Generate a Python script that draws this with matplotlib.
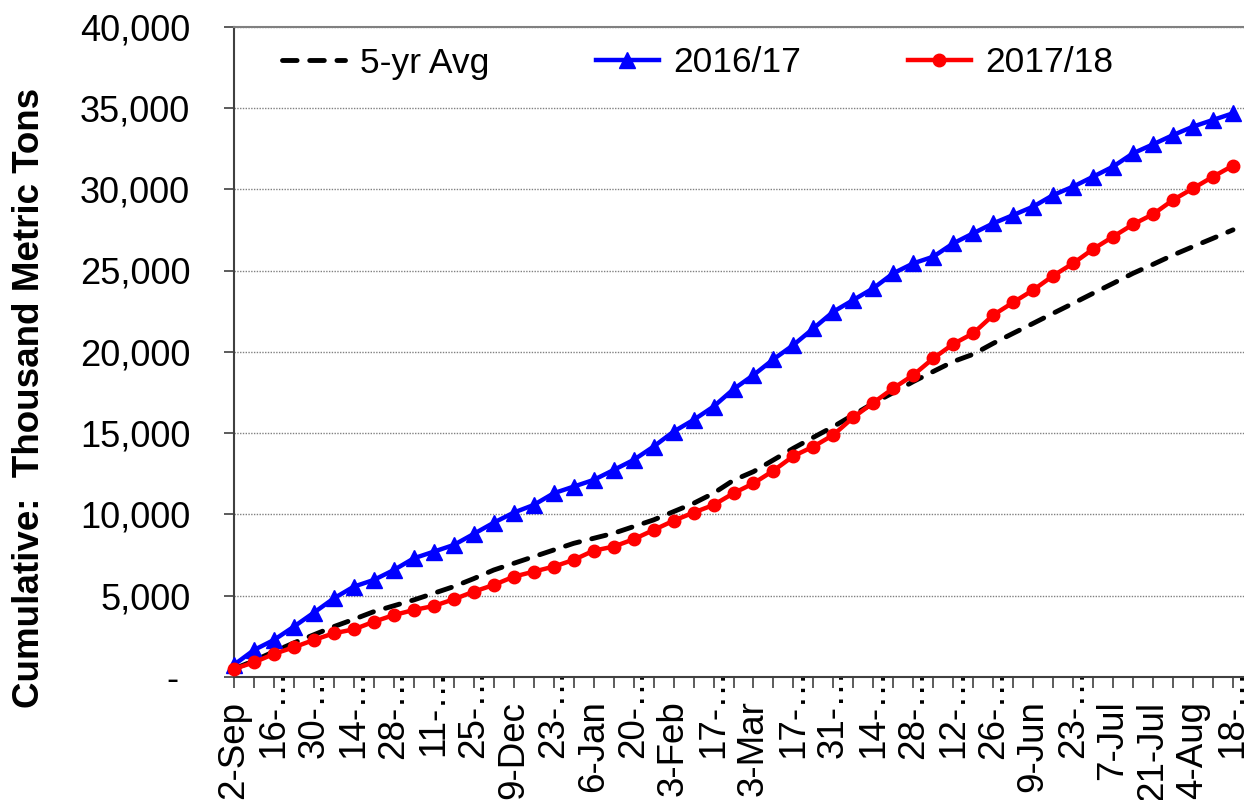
import matplotlib
matplotlib.use("Agg")
import matplotlib.pyplot as plt
from matplotlib.transforms import ScaledTranslation

plt.rcParams['font.family'] = ['Liberation Sans', 'DejaVu Sans']

# ---- data ----
x_labels = ["2-Sep", "", "16-…", "", "30-…", "", "14-…", "", "28-…", "", "11-…", "",
            "25-…", "", "9-Dec", "", "23-…", "", "6-Jan", "", "20-…", "", "3-Feb", "",
            "17-…", "", "3-Mar", "", "17-…", "", "31-…", "", "14-…", "", "28-…", "",
            "12-…", "", "26-…", "", "9-Jun", "", "23-…", "", "7-Jul", "", "21-Jul", "",
            "4-Aug", "", "18-…"]

avg5 = [500, 1000, 1560, 2100, 2600, 3100, 3550, 4020, 4380, 4740, 5150, 5560, 6050,
        6580, 6990, 7400, 7810, 8220, 8530, 8840, 9250, 9660, 10170, 10680, 11300, 12100,
        12630, 13350, 14070, 14740, 15400, 16120, 16840, 17490, 18170, 18790, 19400, 19850,
        20520, 21140, 21750, 22370, 22980, 23600, 24210, 24830, 25380, 25950, 26470, 26980,
        27500]

y2016 = [750, 1660, 2280, 3100, 3960, 4840, 5560, 5970, 6580, 7300, 7710, 8120, 8800,
         9490, 10110, 10580, 11300, 11710, 12120, 12730, 13350, 14170, 15090, 15810, 16630,
         17700, 18570, 19540, 20420, 21440, 22470, 23190, 23910, 24830, 25440, 25850, 26670,
         27290, 27900, 28410, 28930, 29640, 30160, 30770, 31390, 32210, 32760, 33330, 33850,
         34260, 34670]

y2017 = [500, 900, 1420, 1830, 2280, 2690, 2930, 3400, 3810, 4120, 4370, 4780, 5250,
         5660, 6170, 6480, 6790, 7200, 7770, 8020, 8470, 9040, 9610, 10110, 10580, 11300,
         11910, 12690, 13590, 14170, 14890, 15970, 16870, 17760, 18570, 19600, 20480, 21140,
         22260, 23040, 23800, 24680, 25440, 26320, 27080, 27840, 28460, 29340, 30050, 30770,
         31450]

y_ticks = [0, 5000, 10000, 15000, 20000, 25000, 30000, 35000, 40000]
y_tick_labels = ["-", "5,000", "10,000", "15,000", "20,000", "25,000", "30,000", "35,000", "40,000"]

series_names = ["5-yr Avg", "2016/17", "2017/18"]

# ---- figure ----
W, H = 1244, 800
fig = plt.figure(figsize=(W / 100, H / 100), dpi=100)
ax = fig.add_axes([234 / W, 1 - 677 / H, 1 - 234 / W, (677 - 26.6) / H])

x = list(range(len(avg5)))

ax.plot(x, avg5, color='black', lw=3.5, dashes=(3.0, 2.6), dash_capstyle='round',
        label=series_names[0], zorder=3, clip_on=False)
ax.plot(x, y2016, color='#0000FF', lw=3.2, marker='^', markersize=11,
        label=series_names[1], zorder=4, clip_on=False)
ax.plot(x, y2017, color='#FF0000', lw=3.2, marker='o', markersize=9,
        label=series_names[2], zorder=5, clip_on=False)

ax.set_xlim(0, (W - 234) / 19.98)
ax.set_ylim(0, 40000)

ax.set_yticks(y_ticks)
ax.set_yticklabels(y_tick_labels)
ax.set_xticks(x)
ax.set_xticklabels(x_labels, rotation=90, va='top', ha='center')

ax.tick_params(axis='y', direction='out', length=7.5, width=1.2, color='#404040',
               labelsize=26, pad=24)
ax.tick_params(axis='x', direction='out', length=8, width=1.2, color='#404040',
               labelsize=26.5, pad=9)

# shift the "-" zero label like the accounting format
zero_lbl = ax.get_yticklabels()[0]
zero_lbl.set_transform(zero_lbl.get_transform() + ScaledTranslation(-0.12, 0, fig.dpi_scale_trans))

# truncated labels sit higher (ellipsis overlapping the axis), as in the reference
for lbl in ax.get_xticklabels():
    if lbl.get_text().endswith("…"):
        lbl.set_transform(lbl.get_transform() + ScaledTranslation(0, 0.32, fig.dpi_scale_trans))

ax.yaxis.grid(True, color='#808080', linestyle=(0, (1, 1)), linewidth=1)
ax.set_axisbelow(True)

for s in ['left', 'bottom']:
    ax.spines[s].set_color('#404040')
    ax.spines[s].set_linewidth(1.5)
ax.spines['top'].set_color('#808080')
ax.spines['top'].set_linewidth(1.5)
ax.spines['right'].set_visible(False)

ax.set_ylabel("Cumulative:  Thousand Metric Tons", fontsize=26.5, fontweight='bold',
              va='center', ha='center')
ax.yaxis.set_label_coords((30 - 234) / (W - 234), (677 - 398) / (677 - 26.6))

ax.legend(loc='center left', bbox_to_anchor=(282 / W, 1 - 63 / H),
          bbox_transform=fig.transFigure, ncol=3, frameon=False, fontsize=25.5,
          handlelength=1.78, handletextpad=0.42, columnspacing=3.0,
          borderpad=0, borderaxespad=0)

fig.savefig("out.png", dpi=100)
